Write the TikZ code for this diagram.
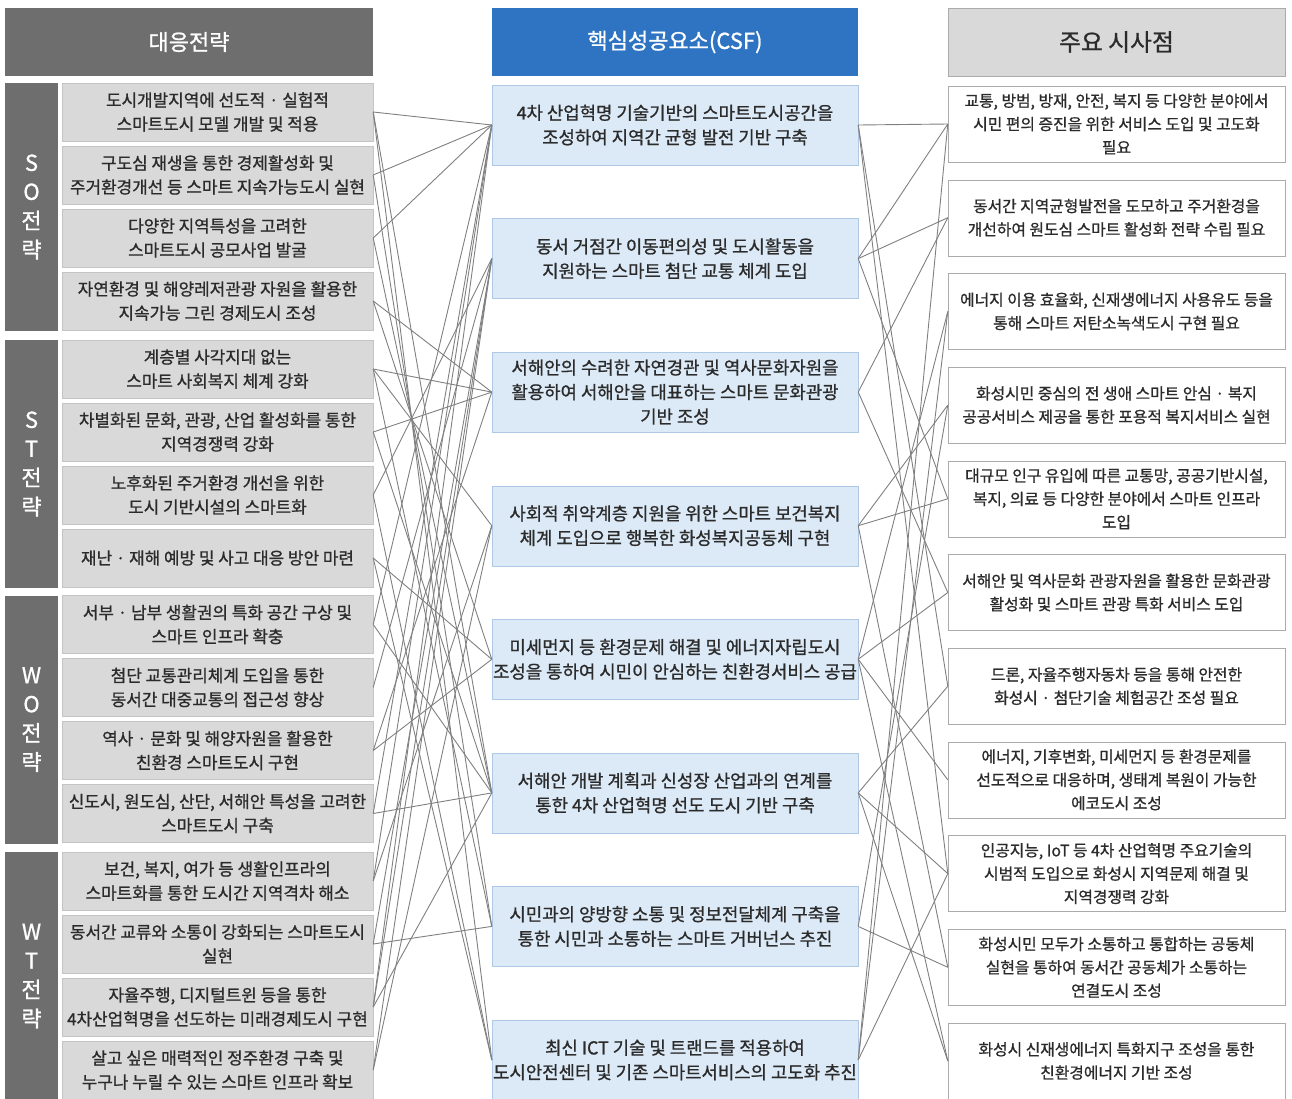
\documentclass[tikz,border=0pt]{standalone}
\usepackage{fontspec}
\setmainfont{Noto Sans CJK KR}[RawFeature={embolden=0.9}]
\definecolor{hdrdark}{HTML}{6E6E6E}
\definecolor{hdrblue}{HTML}{2E74C2}
\definecolor{lgray}{HTML}{D9D9D9}
\definecolor{lborder}{HTML}{C4C4C4}
\definecolor{cblue}{HTML}{DCE9F6}
\definecolor{cborder}{HTML}{AFC8E6}
\definecolor{rborder}{HTML}{ABABAB}
\definecolor{txt}{HTML}{2B2B2B}
\definecolor{linec}{HTML}{808080}
\tikzset{
 lbox/.style={draw=lborder, fill=lgray, minimum width=311pt, minimum height=58pt, inner sep=1pt, align=center, text=txt, font=\fontsize{16.9}{24}\selectfont},
 gbox/.style={fill=hdrdark, minimum width=53pt, inner sep=0pt, align=center, text=white, font=\fontsize{22}{29}\selectfont},
 cbox/.style={draw=cborder, fill=cblue, minimum width=366pt, minimum height=80pt, inner sep=1pt, align=center, text=txt, font=\fontsize{17.8}{24.5}\selectfont},
 rbox/.style={draw=rborder, fill=white, minimum width=337pt, minimum height=76pt, inner sep=1pt, align=center, text=txt, font=\fontsize{15.8}{23.3}\selectfont},
 hbox/.style={minimum height=68pt, inner sep=0pt, font=\fontsize{22}{24}\selectfont},
 link/.style={draw=linec, line width=0.9pt},
}
\begin{document}
\begin{tikzpicture}[x=1pt,y=-1pt]
\useasboundingbox[fill=white] (0,0) rectangle (1292,1098);
% headers
\node[hbox, fill=hdrdark, text=white, minimum width=368pt] (H1) at (189,42) {대응전략};
\node[hbox, fill=hdrblue, text=white, minimum width=366pt] (H2) at (675,42) {핵심성공요소(CSF)};
\node[hbox, fill=lgray, draw=rborder, text=txt, minimum width=337pt, font=\fontsize{23.8}{24}\selectfont] (H3) at (1116.5,42) {주요 시사점};
% group labels
\node[gbox, minimum height=248pt] (G1) at (31.5,207) {S\\O\\전\\략};
\node[gbox, minimum height=248pt] (G2) at (31.5,464) {S\\T\\전\\략};
\node[gbox, minimum height=248pt] (G3) at (31.5,719.5) {W\\O\\전\\략};
\node[gbox, minimum height=248pt] (G4) at (31.5,976) {W\\T\\전\\략};
% left boxes
\node[lbox] (L1) at (217.5,112) {도시개발지역에 선도적 · 실험적\\스마트도시 모델 개발 및 적용};
\node[lbox] (L2) at (217.5,175) {구도심 재생을 통한 경제활성화 및\\주거환경개선 등 스마트 지속가능도시 실현};
\node[lbox] (L3) at (217.5,238) {다양한 지역특성을 고려한\\스마트도시 공모사업 발굴};
\node[lbox] (L4) at (217.5,301) {자연환경 및 해양레저관광 자원을 활용한\\지속가능 그린 경제도시 조성};
\node[lbox] (L5) at (217.5,369) {계층별 사각지대 없는\\스마트 사회복지 체계 강화};
\node[lbox] (L6) at (217.5,432) {차별화된 문화, 관광, 산업 활성화를 통한\\지역경쟁력 강화};
\node[lbox] (L7) at (217.5,495) {노후화된 주거환경 개선을 위한\\도시 기반시설의 스마트화};
\node[lbox] (L8) at (217.5,558) {재난 · 재해 예방 및 사고 대응 방안 마련};
\node[lbox] (L9) at (217.5,624.5) {서부 · 남부 생활권의 특화 공간 구상 및\\스마트 인프라 확충};
\node[lbox] (L10) at (217.5,687.5) {첨단 교통관리체계 도입을 통한\\동서간 대중교통의 접근성 향상};
\node[lbox] (L11) at (217.5,750.5) {역사 · 문화 및 해양자원을 활용한\\친환경 스마트도시 구현};
\node[lbox] (L12) at (217.5,813.5) {신도시, 원도심, 산단, 서해안 특성을 고려한\\스마트도시 구축};
\node[lbox] (L13) at (217.5,881) {보건, 복지, 여가 등 생활인프라의\\스마트화를 통한 도시간 지역격차 해소};
\node[lbox] (L14) at (217.5,944) {동서간 교류와 소통이 강화되는 스마트도시\\실현};
\node[lbox] (L15) at (217.5,1007) {자율주행, 디지털트윈 등을 통한\\4차산업혁명을 선도하는 미래경제도시 구현};
\node[lbox] (L16) at (217.5,1070) {살고 싶은 매력적인 정주환경 구축 및\\누구나 누릴 수 있는 스마트 인프라 확보};
% CSF boxes
\node[cbox] (C1) at (675,125) {4차 산업혁명 기술기반의 스마트도시공간을\\조성하여 지역간 균형 발전 기반 구축};
\node[cbox] (C2) at (675,258.6) {동서 거점간 이동편의성 및 도시활동을\\지원하는 스마트 첨단 교통 체계 도입};
\node[cbox] (C3) at (675,392.1) {서해안의 수려한 자연경관 및 역사문화자원을\\활용하여 서해안을 대표하는 스마트 문화관광\\기반 조성};
\node[cbox] (C4) at (675,525.7) {사회적 취약계층 지원을 위한 스마트 보건복지\\체계 도입으로 행복한 화성복지공동체 구현};
\node[cbox] (C5) at (675,659.3) {미세먼지 등 환경문제 해결 및 에너지자립도시\\조성을 통하여 시민이 안심하는 친환경서비스 공급};
\node[cbox] (C6) at (675,792.9) {서해안 개발 계획과 신성장 산업과의 연계를\\통한 4차 산업혁명 선도 도시 기반 구축};
\node[cbox] (C7) at (675,926.4) {시민과의 양방향 소통 및 정보전달체계 구축을\\통한 시민과 소통하는 스마트 거버넌스 추진};
\node[cbox] (C8) at (675,1060) {최신 ICT 기술 및 트랜드를 적용하여\\도시안전센터 및 기존 스마트서비스의 고도화 추진};
% right boxes
\node[rbox] (R1) at (1116.5,124) {교통, 방범, 방재, 안전, 복지 등 다양한 분야에서\\시민 편의 증진을 위한 서비스 도입 및 고도화\\필요};
\node[rbox] (R2) at (1116.5,217.7) {동서간 지역균형발전을 도모하고 주거환경을\\개선하여 원도심 스마트 활성화 전략 수립 필요};
\node[rbox] (R3) at (1116.5,311.4) {에너지 이용 효율화, 신재생에너지 사용유도 등을\\통해 스마트 저탄소녹색도시 구현 필요};
\node[rbox] (R4) at (1116.5,405.1) {화성시민 중심의 전 생애 스마트 안심 · 복지\\공공서비스 제공을 통한 포용적 복지서비스 실현};
\node[rbox] (R5) at (1116.5,498.8) {대규모 인구 유입에 따른 교통망, 공공기반시설,\\복지, 의료 등 다양한 분야에서 스마트 인프라\\도입};
\node[rbox] (R6) at (1116.5,592.5) {서해안 및 역사문화 관광자원을 활용한 문화관광\\활성화 및 스마트 관광 특화 서비스 도입};
\node[rbox] (R7) at (1116.5,686.2) {드론, 자율주행자동차 등을 통해 안전한\\화성시 · 첨단기술 체험공간 조성 필요};
\node[rbox] (R8) at (1116.5,779.9) {에너지, 기후변화, 미세먼지 등 환경문제를\\선도적으로 대응하며, 생태계 복원이 가능한\\에코도시 조성};
\node[rbox] (R9) at (1116.5,873.6) {인공지능, IoT 등 4차 산업혁명 주요기술의\\시범적 도입으로 화성시 지역문제 해결 및\\지역경쟁력 강화};
\node[rbox] (R10) at (1116.5,967.3) {화성시민 모두가 소통하고 통합하는 공동체\\실현을 통하여 동서간 공동체가 소통하는\\연결도시 조성};
\node[rbox] (R11) at (1116.5,1061) {화성시 신재생에너지 특화지구 조성을 통한\\친환경에너지 기반 조성};
% left connectors
\foreach \a/\b in {1/1,1/8,1/6,2/1,2/7,3/1,3/6,4/3,4/5,5/3,5/4,5/7,6/3,6/6,7/8,7/2,8/5,8/8,9/1,9/6,10/2,11/3,11/5,12/1,12/6,13/4,13/1,14/7,14/2,15/1,15/6,15/2,16/4,16/2}
  \draw[link] (L\a.east) -- (C\b.west);
% right connectors
\foreach \a/\b in {1/1,1/9,1/7,2/1,2/5,2/2,3/6,3/2,4/4,4/10,4/5,5/8,5/11,5/3,5/6,6/7,6/9,6/11,7/10,7/4,8/1,8/3,8/9}
  \draw[link] (C\a.east) -- (R\b.west);
\end{tikzpicture}
\end{document}
